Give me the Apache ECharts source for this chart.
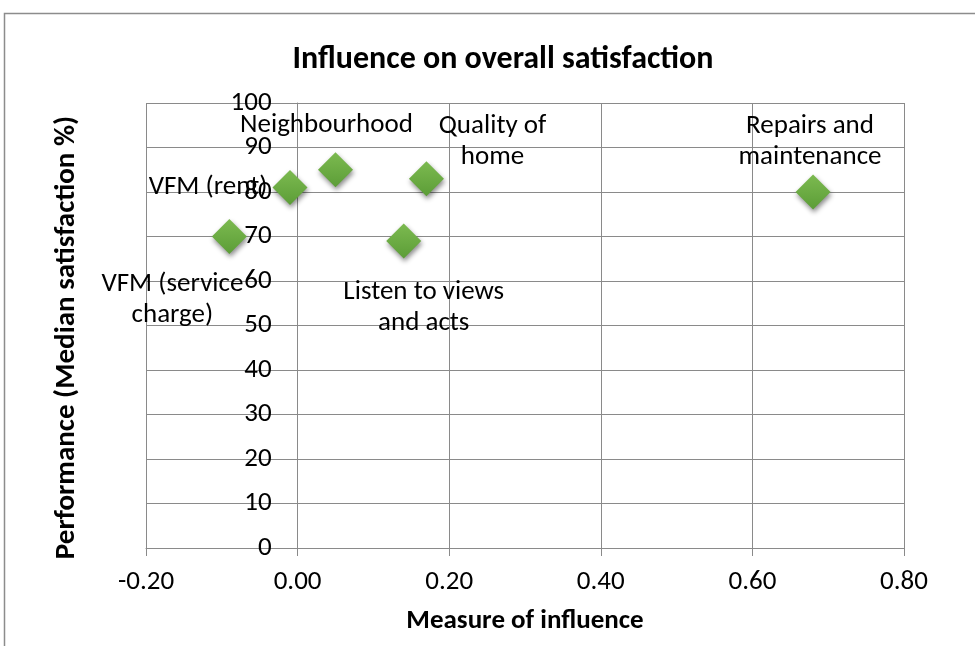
<!DOCTYPE html>
<html>
<head>
<meta charset="utf-8">
<script src="https://cdn.jsdelivr.net/npm/echarts@6/dist/echarts.min.js"></script>
<style>
  html, body { margin: 0; padding: 0; background: #fff; }
  #chart { width: 975px; height: 646px; }
</style>
</head>
<body>
<div id="chart"></div>
<script>
// Drivers of overall satisfaction: influence (x) vs median satisfaction (y)
const categories = [
  'VFM (service\ncharge)',
  'VFM (rent)',
  'Neighbourhood',
  'Listen to views\nand acts',
  'Quality of\nhome',
  'Repairs and\nmaintenance'
];
const influence = [-0.09, -0.01, 0.05, 0.14, 0.17, 0.68];
const satisfaction = [70, 81, 85, 69, 83, 80];
const xTicks = [-0.2, 0.0, 0.2, 0.4, 0.6, 0.8];

// Where each label sits relative to its marker (pixels from marker centre)
const labelOffsets = {
  'VFM (service\ncharge)': [-57, 63],
  'VFM (rent)': [-82, 0],
  'Neighbourhood': [-9, -45],
  'Listen to views\nand acts': [20, 67],
  'Quality of\nhome': [66, -37],
  'Repairs and\nmaintenance': [-3, -50]
};

const FONT = 'Carlito, Calibri, Lato, sans-serif';
const GRID_COLOR = '#8a8a8a';
const GRID_LEFT = 146;

const points = categories.map((name, i) => ({
  name: name,
  value: [influence[i], satisfaction[i]]
}));

const chart = echarts.init(document.getElementById('chart'));
chart.setOption({
  backgroundColor: '#ffffff',
  animation: false,
  title: {
    text: 'Influence on overall satisfaction',
    left: 498,
    top: 39,
    textAlign: 'center',
    textStyle: { fontFamily: FONT, fontWeight: 'bold', fontSize: 32, color: '#000' }
  },
  graphic: [{
    type: 'rect',
    shape: { x: 4.5, y: 13.5, width: 1200, height: 900 },
    style: { fill: 'none', stroke: '#8c8c8c', lineWidth: 1.5 },
    silent: true
  }],
  grid: { left: GRID_LEFT, right: 71, top: 103, bottom: 98, containLabel: false, outerBoundsMode: 'none' },
  xAxis: {
    type: 'value',
    min: xTicks[0],
    max: xTicks[xTicks.length - 1],
    interval: 0.2,
    name: 'Measure of influence',
    nameLocation: 'middle',
    nameGap: 60,
    nameTextStyle: { fontFamily: FONT, fontWeight: 'bold', fontSize: 27, color: '#000' },
    axisLine: { onZero: false, lineStyle: { color: GRID_COLOR, width: 1 } },
    axisTick: { show: true, length: 8, lineStyle: { color: GRID_COLOR } },
    axisLabel: {
      fontFamily: FONT, fontSize: 27, color: '#000', margin: 21,
      formatter: v => v.toFixed(2)
    },
    splitLine: { show: true, lineStyle: { color: GRID_COLOR, width: 1 } }
  },
  yAxis: {
    type: 'value',
    min: 0,
    max: 100,
    interval: 10,
    name: 'Performance (Median satisfaction %)',
    nameLocation: 'middle',
    nameGap: 216,
    nameTextStyle: {
      fontFamily: FONT, fontWeight: 'bold', fontSize: 29, color: '#000',
      padding: [0, 24, 0, 0]
    },
    axisLine: { show: true, onZero: false, lineStyle: { color: GRID_COLOR, width: 1 } },
    axisTick: { show: true, length: 9, lineStyle: { color: GRID_COLOR } },
    axisLabel: { fontFamily: FONT, fontSize: 27, color: '#000', margin: 26 },
    splitLine: { show: true, lineStyle: { color: GRID_COLOR, width: 1 } }
  },
  series: [{
    type: 'scatter',
    symbol: 'diamond',
    symbolSize: 35,
    data: points,
    itemStyle: {
      opacity: 1,
      color: new echarts.graphic.LinearGradient(0, 0, 0, 1, [
        { offset: 0, color: '#7cba50' },
        { offset: 1, color: '#5c9d37' }
      ]),
      shadowColor: 'rgba(0,0,0,0.45)',
      shadowBlur: 5,
      shadowOffsetX: 1,
      shadowOffsetY: 3
    },
    label: {
      show: true,
      position: 'inside',
      align: 'center',
      verticalAlign: 'middle',
      fontFamily: FONT,
      fontSize: 27,
      lineHeight: 31,
      color: '#000',
      opacity: 1,
      textBorderWidth: 0,
      textBorderColor: 'transparent',
      formatter: p => p.name
    },
    // shift each label away from its marker
    labelLayout: function (params) {
      const off = labelOffsets[categories[params.dataIndex]] || [0, 0];
      return { dx: off[0], dy: off[1], hideOverlap: false };
    },
    emphasis: { disabled: true }
  }]
});

// The vertical axis crosses the horizontal one at x = 0
const zeroPx = chart.convertToPixel({ xAxisIndex: 0 }, 0);
chart.setOption({ yAxis: { offset: -(zeroPx - GRID_LEFT) } });
</script>
</body>
</html>
